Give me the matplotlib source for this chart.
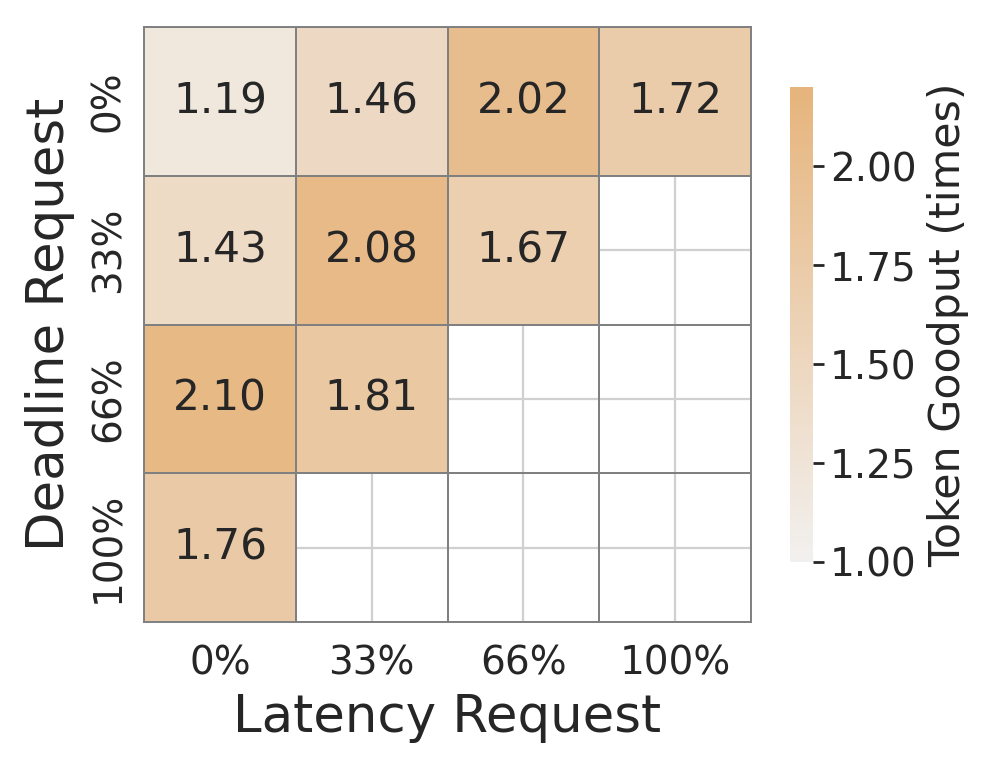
import numpy as np
import matplotlib
matplotlib.use('Agg')
import matplotlib.pyplot as plt
import seaborn as sns

# data
latency_labels = ['0%', '33%', '66%', '100%']
deadline_labels = ['0%', '33%', '66%', '100%']
row_0 = [1.19, 1.46, 2.02, 1.72]
row_33 = [1.43, 2.08, 1.67, np.nan]
row_66 = [2.10, 1.81, np.nan, np.nan]
row_100 = [1.76, np.nan, np.nan, np.nan]

TEXT = '#262626'
TOP = '#e6b47c'

sns.set_theme(style='whitegrid')
plt.rcParams['font.family'] = ['DejaVu Sans']

goodput = np.array([row_0, row_33, row_66, row_100])
cmap = sns.light_palette(TOP, as_cmap=True)

fig = plt.figure(figsize=(4.98, 3.835), dpi=200)
ax = fig.add_axes([0.1446, 0.189, 0.6094, 0.7757])
cax = fig.add_axes([0.7932, 0.2673, 0.0231, 0.6193])

sns.heatmap(goodput, ax=ax, cbar_ax=cax, cmap=cmap, vmin=1.0, vmax=2.2,
            annot=True, fmt='.2f', annot_kws={'fontsize': 15.2, 'color': TEXT},
            linewidths=0.7, linecolor='gray',
            xticklabels=latency_labels, yticklabels=deadline_labels)

# grid behind the cells (shows in empty cells)
ax.set_axisbelow(True)
ax.grid(True, which='major', color='#d0d0d0', lw=0.8)
ax.set_xticks(np.arange(0, 5), minor=True)
ax.set_yticks(np.arange(0, 5), minor=True)
ax.grid(True, which='minor', color='gray', lw=0.7)
ax.tick_params(which='both', length=0)
for sp in ax.spines.values():
    sp.set_visible(True)
    sp.set_color('gray')
    sp.set_linewidth(0.7)

ax.tick_params(axis='x', labelsize=14, labelcolor=TEXT, pad=8, rotation=0)
ax.tick_params(axis='y', labelsize=14, labelcolor=TEXT, pad=6, rotation=90)
for lbl in ax.get_yticklabels():
    lbl.set_va('center')
ax.set_xlabel('Latency Request', fontsize=18.5, color=TEXT, labelpad=4)
ax.set_ylabel('Deadline Request', fontsize=18.5, color=TEXT, labelpad=5)

cbar = ax.collections[0].colorbar
cbar.outline.set_visible(False)
cbar.set_ticks([1.0, 1.25, 1.5, 1.75, 2.0])
cbar.ax.yaxis.set_major_formatter(matplotlib.ticker.FormatStrFormatter('%.2f'))
cbar.ax.tick_params(labelsize=14, labelcolor=TEXT, length=4, width=1, color=TEXT, pad=2)
cbar.set_label('Token Goodput (times)', fontsize=15.4, color=TEXT, labelpad=4)

fig.savefig('out.png', dpi=200)
